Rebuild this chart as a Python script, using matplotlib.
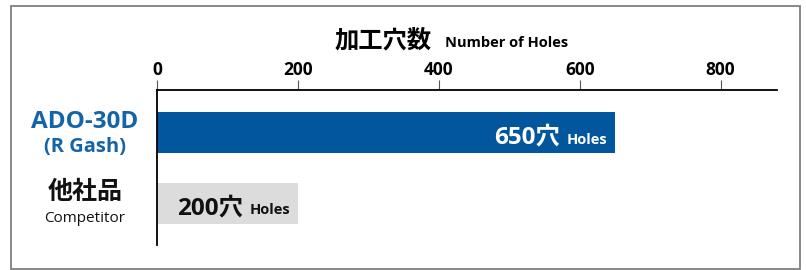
import matplotlib
matplotlib.use("Agg")
from matplotlib import pyplot as plt
from matplotlib.patches import Rectangle
import matplotlib.transforms as mtransforms

plt.rcParams.update(
    {
        "font.family": ["Open Sans", "Noto Sans CJK JP", "DejaVu Sans"],
        "font.size": 12,
    }
)

# data
names = ["ADO-30D", "他社品"]
subnames = ["(R Gash)", "Competitor"]
holes = [650, 200]
bar_colors = ["#02569e", "#dcdcdc"]
text_colors = ["white", "#111111"]
name_colors = ["#1464a8", "#111111"]
xticks = [0, 200, 400, 600, 800]

W, H = 806, 270
fig = plt.figure(figsize=(W / 100, H / 100), dpi=100)

# outer frame
fig.patches.append(
    Rectangle((11 / W, 1 - 269 / H), 789 / W, 263 / H, transform=fig.transFigure,
              fill=False, edgecolor="#7f7f7f", linewidth=1.3)
)

# axes: left edge 157px, right 777px, top 90px, bottom 245px
ax = fig.add_axes([157 / W, 1 - 245 / H, 620 / W, 155 / H])
ax.barh(range(len(holes)), holes, height=0.577, color=bar_colors)
ax.set_xlim(0, 880)
ax.set_ylim(1.585, -0.599)

for s in ["right", "bottom"]:
    ax.spines[s].set_visible(False)
ax.spines["top"].set_linewidth(1.3)
ax.spines["left"].set_linewidth(1.3)

ax.set_yticks([])
ax.xaxis.tick_top()
ax.set_xticks(xticks)
ax.tick_params(axis="x", direction="out", length=7, width=0.8, color="#555555",
               pad=1, labelsize=12.5)
for lab in ax.get_xticklabels():
    lab.set_fontweight("bold")

# title
fig.text(432 / W, 1 - 47 / H, "加工穴数", ha="right", va="baseline",
         fontsize=17.5, fontweight="bold")
fig.text(445 / W, 1 - 47 / H, "Number of Holes", ha="left", va="baseline",
         fontsize=10.5, fontweight="bold")

# category labels left of the axis
tr = mtransforms.blended_transform_factory(fig.transFigure, ax.transData)
name_sizes = [17.5, 18]
sub_sizes = [14.5, 11]
sub_weights = ["bold", "normal"]
for i in range(len(names)):
    ax.text(85 / W, i - 0.15, names[i], transform=tr, ha="center", va="center",
            fontsize=name_sizes[i], fontweight="bold", color=name_colors[i])
    ax.text(85 / W, i + 0.21, subnames[i], transform=tr, ha="center", va="center",
            fontsize=sub_sizes[i], fontweight=sub_weights[i], color=name_colors[i])

# value labels inside bars
for i, v in enumerate(holes):
    ax.annotate("Holes", (v, i), xytext=(-8, -11), textcoords="offset pixels",
                ha="right", va="baseline", fontsize=10.5, fontweight="bold",
                color=text_colors[i])
    ax.annotate(f"{v}穴", (v, i), xytext=(-55, -11), textcoords="offset pixels",
                ha="right", va="baseline", fontsize=17.5, fontweight="bold",
                color=text_colors[i])

fig.savefig("out.png", dpi=100)
